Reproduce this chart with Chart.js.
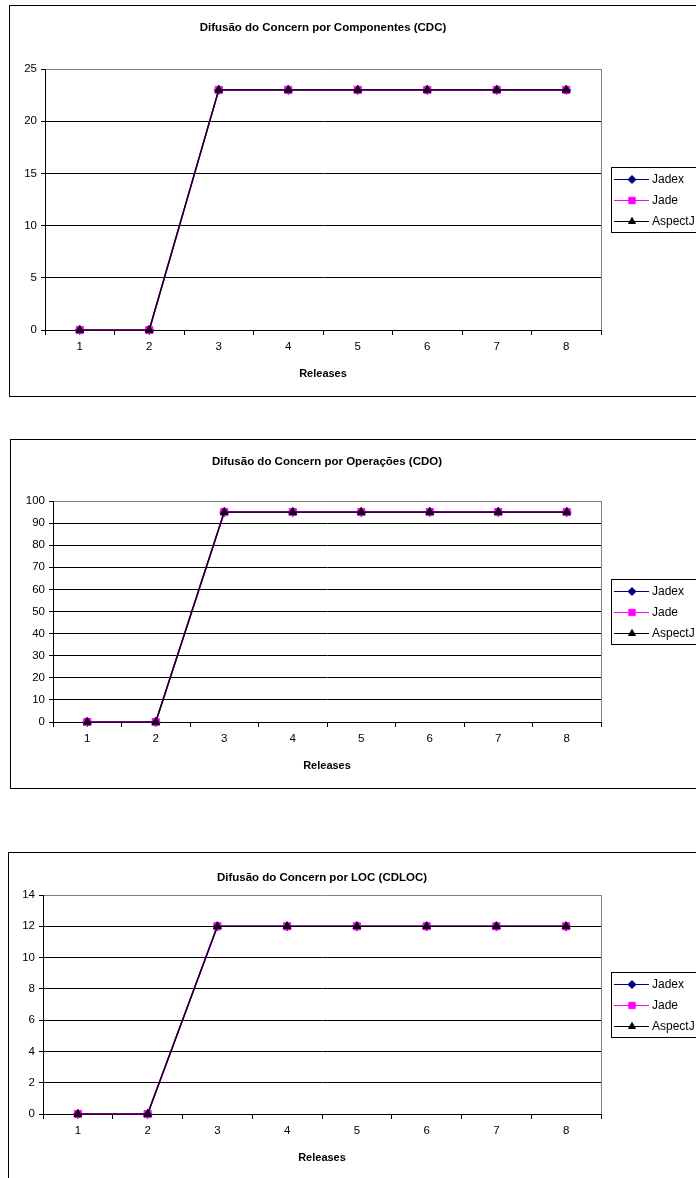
<!DOCTYPE html>
<html>
<head>
<meta charset="utf-8">
<script src="https://cdn.jsdelivr.net/npm/chart.js@4.4.1/dist/chart.umd.min.js"></script>
<style>
  html, body { margin: 0; padding: 0; background: #fff; width: 696px; height: 1178px; overflow: hidden; }
  .frame { position: absolute; border: 1px solid #000; box-sizing: border-box; }
  canvas { position: absolute; left: 0; }
</style>
</head>
<body>
<div class="frame" style="left:9px; top:5px; width:800px; height:392px;"></div>
<div class="frame" style="left:10px; top:439px; width:800px; height:350px;"></div>
<div class="frame" style="left:8px; top:852px; width:800px; height:400px;"></div>
<canvas id="cdc"></canvas>
<canvas id="cdo"></canvas>
<canvas id="cdloc"></canvas>
<script>
// Releases on the x axis
const releases = ['1', '2', '3', '4', '5', '6', '7', '8'];
const seriesNames = ['Jadex', 'Jade', 'AspectJ'];

// Difusão do Concern por Componentes (CDC)
const cdcJadex   = [0, 0, 23, 23, 23, 23, 23, 23];
const cdcJade    = [0, 0, 23, 23, 23, 23, 23, 23];
const cdcAspectJ = [0, 0, 23, 23, 23, 23, 23, 23];
const cdcTicks   = [0, 5, 10, 15, 20, 25];

// Difusão do Concern por Operações (CDO)
const cdoJadex   = [0, 0, 95, 95, 95, 95, 95, 95];
const cdoJade    = [0, 0, 95, 95, 95, 95, 95, 95];
const cdoAspectJ = [0, 0, 95, 95, 95, 95, 95, 95];
const cdoTicks   = [0, 10, 20, 30, 40, 50, 60, 70, 80, 90, 100];

// Difusão do Concern por LOC (CDLOC)
const cdlocJadex   = [0, 0, 12, 12, 12, 12, 12, 12];
const cdlocJade    = [0, 0, 12, 12, 12, 12, 12, 12];
const cdlocAspectJ = [0, 0, 12, 12, 12, 12, 12, 12];
const cdlocTicks   = [0, 2, 4, 6, 8, 10, 12, 14];

const FONT = "'Liberation Sans', Arial, Helvetica, sans-serif";
Chart.defaults.font.family = FONT;
Chart.defaults.font.size = 11;
Chart.defaults.color = '#000';

// Later series are painted over earlier ones (AspectJ on top)
const seriesStyle = [
  { color: '#000080', point: 'rectRot',  radius: 4.5, width: 1.5,  order: 2 },
  { color: '#FF00FF', point: 'rect',     radius: 5,   width: 1.5,  order: 1 },
  { color: '#000000', point: 'triangle', radius: 4.5, width: 1.25, order: 0 }
];

// Boxed key to the right of the plot
const seriesKey = {
  id: 'seriesKey',
  afterDraw(chart) {
    const { ctx, chartArea: a } = chart;
    const x0 = Math.round(a.right + 10);
    const cy = (a.top + a.bottom) / 2;
    const rowGap = 21, boxH = 65;
    ctx.save();
    ctx.strokeStyle = '#000';
    ctx.lineWidth = 1;
    ctx.strokeRect(x0 + 0.5, Math.round(cy - boxH / 2) + 0.5, 140, boxH);
    chart.data.datasets.forEach((ds, i) => {
      const y = Math.round(cy + (i - 1) * rowGap) + 0.5;
      ctx.strokeStyle = ds.borderColor;
      ctx.lineWidth = 1;
      ctx.beginPath();
      ctx.moveTo(x0 + 3, y);
      ctx.lineTo(x0 + 38, y);
      ctx.stroke();
      ctx.fillStyle = ds.pointBackgroundColor;
      ctx.strokeStyle = ds.pointBorderColor;
      Chart.helpers.drawPoint(ctx, { pointStyle: ds.pointStyle, radius: ds.pointRadius - 0.5, borderWidth: 1, rotation: 0 }, x0 + 21, y);
      ctx.fillStyle = '#000';
      ctx.font = '12px ' + FONT;
      ctx.textBaseline = 'middle';
      ctx.textAlign = 'left';
      ctx.fillText(ds.label, x0 + 41, y);
    });
    ctx.restore();
  }
};

// Gray right edge of the plot area
const plotEdge = {
  id: 'plotEdge',
  beforeDatasetsDraw(chart) {
    const { ctx, chartArea: a } = chart;
    ctx.save();
    ctx.strokeStyle = '#808080';
    ctx.lineWidth = 1;
    const x = Math.round(a.right) + 0.5;
    ctx.beginPath();
    ctx.moveTo(x, a.top);
    ctx.lineTo(x, a.bottom);
    ctx.stroke();
    ctx.restore();
  }
};

function makeChart(id, title, series, ticks, g) {
  const canvas = document.getElementById(id);
  const W = 696, H = g.plotBottom + 60;
  canvas.width = W; canvas.height = H;
  canvas.style.width = W + 'px'; canvas.style.height = H + 'px';
  canvas.style.top = g.top + 'px';
  const maxV = ticks[ticks.length - 1];

  const datasets = series.map((values, i) => {
    const s = seriesStyle[i];
    return {
      label: seriesNames[i],
      data: values,
      order: s.order,
      borderColor: s.color,
      backgroundColor: s.color,
      borderWidth: s.width,
      pointStyle: s.point,
      pointRadius: s.radius,
      pointBackgroundColor: s.color,
      pointBorderColor: s.color,
      pointBorderWidth: 1,
      tension: 0,
      fill: false,
      clip: false
    };
  });

  return new Chart(canvas, {
    type: 'line',
    data: { labels: releases, datasets },
    plugins: [plotEdge, seriesKey],
    options: {
      responsive: false,
      animation: false,
      devicePixelRatio: 1,
      events: [],
      layout: { padding: { left: 0, right: W - 601, top: 0, bottom: 0 } },
      plugins: {
        legend: { display: false },
        tooltip: { enabled: false },
        title: {
          display: true,
          fullSize: false,
          text: title,
          color: '#000',
          font: { size: 11.5, weight: 'bold' },
          padding: { top: g.titleY - 6.9, bottom: g.plotTop - g.titleY - 6.9 }
        }
      },
      scales: {
        x: {
          type: 'category',
          offset: true,
          grid: { offset: true, drawOnChartArea: false, drawTicks: true, tickLength: 5, color: '#000' },
          border: { color: '#000', width: 1 },
          ticks: { padding: 5, color: '#000', font: { size: 11.5 }, maxRotation: 0 },
          title: {
            display: true, text: 'Releases', color: '#000',
            font: { size: 11, weight: 'bold' },
            padding: { top: 0, bottom: 9.4 }
          },
          afterFit: s => { s.height = 60; }
        },
        y: {
          min: ticks[0],
          max: maxV,
          afterBuildTicks: s => { s.ticks = ticks.map(v => ({ value: v })); },
          grid: {
            color: c => (c.tick && c.tick.value === maxV) ? '#808080' : '#000',
            tickColor: '#000',
            tickLength: 4,
            lineWidth: 1
          },
          border: { color: '#000', width: 1 },
          ticks: { padding: 4, color: '#000', font: { size: 11.5 } },
          afterFit: s => { s.width = g.plotLeft; }
        }
      }
    }
  });
}

makeChart('cdc', 'Difusão do Concern por Componentes (CDC)',
  [cdcJadex, cdcJade, cdcAspectJ], cdcTicks,
  { top: 5, plotLeft: 45, plotTop: 64, plotBottom: 325, titleY: 23 });

makeChart('cdo', 'Difusão do Concern por Operações (CDO)',
  [cdoJadex, cdoJade, cdoAspectJ], cdoTicks,
  { top: 439, plotLeft: 53, plotTop: 62, plotBottom: 283, titleY: 23 });

makeChart('cdloc', 'Difusão do Concern por LOC (CDLOC)',
  [cdlocJadex, cdlocJade, cdlocAspectJ], cdlocTicks,
  { top: 852, plotLeft: 43, plotTop: 43, plotBottom: 262, titleY: 26 });
</script>
</body>
</html>
